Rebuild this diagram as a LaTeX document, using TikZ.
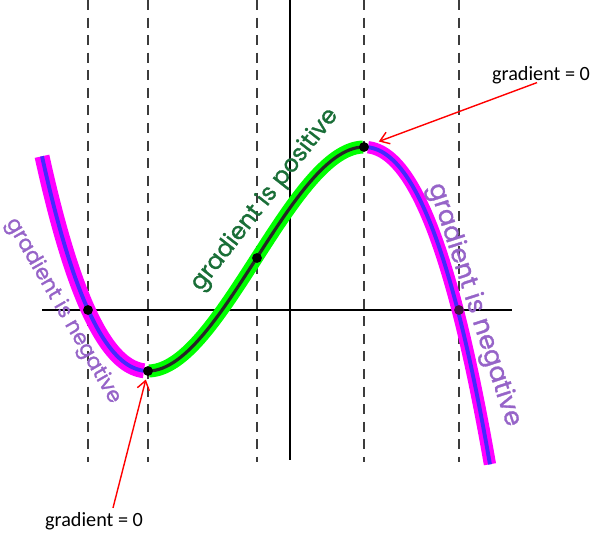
\documentclass[tikz,border=0pt]{standalone}
\usepackage{fontspec}
\setmainfont{Carlito}
\newfontfamily\handfont{Poppins}[FakeBold=1.2]
\usetikzlibrary{arrows.meta}

\definecolor{hotpink}{RGB}{255,0,255}
\definecolor{penblue}{RGB}{70,40,255}
\definecolor{limegr}{RGB}{0,255,0}
\definecolor{lilac}{RGB}{150,100,200}
\definecolor{pengreen}{RGB}{25,110,55}
\definecolor{guidegray}{RGB}{60,60,60}
\definecolor{darkplum}{RGB}{70,20,70}

\tikzset{
  guide/.style={guidegray,line width=1.1pt,dash pattern=on 5.7pt off 4.3pt},
  axis/.style={black,line width=0.9pt},
  glow/.style={line width=8.5pt},
  dot/.style={circle,fill=black,inner sep=0pt,minimum size=5.6pt},
  zerolabel/.style={font=\fontsize{11.5}{13}\selectfont,inner sep=0pt},
  handnote/.style={font=\handfont\fontsize{12}{14}\selectfont,inner sep=0pt},
  gradarrow/.style={red,line width=0.8pt,-{Straight Barb[length=5pt,width=7pt]}},
}

\begin{document}
\begin{tikzpicture}[x=0.2mm,y=-0.2mm,
    declare function={cy(\t)=259+44.45*\t^3-155.55*\t;}]
  \useasboundingbox (0,0) rectangle (600,538);

  % dashed guides at the special points
  \foreach \gx in {88,148,257,364,459}
    \draw[guide] (\gx,0) -- (\gx,462);

  % axes
  \draw[axis] (42,310) -- (512,310);
  \draw[axis] (290,0) -- (290,460);

  % highlighted curve pieces
  \draw[glow,hotpink,domain=-2.14:-1.12,smooth,variable=\t,samples=40] plot ({256+100*\t},{cy(\t)});
  \draw[glow,line width=7.4pt,limegr,domain=-1.07:1.07,smooth,variable=\t,samples=60] plot ({256+100*\t},{cy(\t)});
  \draw[glow,line width=7pt,hotpink,domain=1.12:2.34,smooth,variable=\t,samples=50] plot ({256+100*\t},{cy(\t)});
  \draw[penblue,line width=2.2pt,domain=-2.14:-1.1,smooth,variable=\t,samples=40] plot ({256+100*\t},{cy(\t)});
  \draw[black!85,line width=1.8pt,domain=-1.08:1.08,smooth,variable=\t,samples=60] plot ({256+100*\t},{cy(\t)});
  \draw[penblue,line width=2.2pt,domain=1.1:2.34,smooth,variable=\t,samples=50] plot ({256+100*\t},{cy(\t)});

  % points
  \node[dot] (rootl) at (88,310) {};
  \node[dot] (minpt) at (148,371) {};
  \node[dot] (infl) at (257,258) {};
  \node[dot] (maxpt) at (364,147) {};
  \node[dot,fill=darkplum] (rootr) at (459,310) {};

  % notes
  \node[handnote,lilac,rotate=-60] (negl) at (63,311) {gradient is negative};
  \node[handnote,lilac,rotate=-72,font=\handfont\fontsize{14.5}{16}\selectfont] (negr) at (474,305) {gradient is negative};
  \node[handnote,pengreen,rotate=52,font=\handfont\fontsize{13.5}{15}\selectfont] (pos) at (265,200) {gradient is positive};

  \node[zerolabel] (topzero) at (541,75) {gradient = 0};
  \node[zerolabel] (botzero) at (94,521) {gradient = 0};
  \draw[gradarrow,shorten >=6pt] ([xshift=-0.8mm,yshift=0.3mm]topzero.south) -- (maxpt);
  \draw[gradarrow,shorten >=2pt] ([xshift=3.8mm,yshift=0.8mm]botzero.north) -- (minpt);
\end{tikzpicture}
\end{document}
